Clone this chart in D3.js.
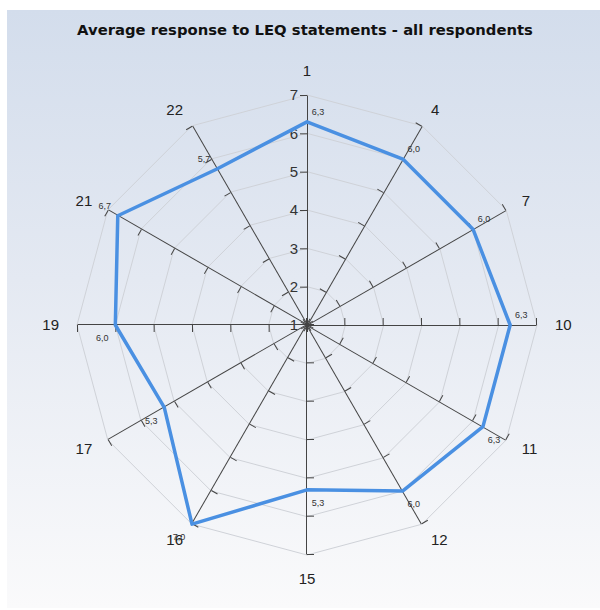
<!DOCTYPE html>
<html>
<head>
<meta charset="utf-8">
<script src="https://cdn.jsdelivr.net/npm/d3@7"></script>
<style>
  body { margin: 0; background: #fff; }
  svg { display: block; }
</style>
</head>
<body>
<div id="chart"></div>
<script>
// statements shown on the radar, clockwise from the top
var statements = ['1', '4', '7', '10', '11', '12', '15', '16', '17', '19', '21', '22']
// average response per statement
var averages = [6.3, 6.0, 6.0, 6.3, 6.3, 6.0, 5.3, 7.0, 5.3, 6.0, 6.7, 5.7]
// scale ticks
var scaleTicks = [1, 2, 3, 4, 5, 6, 7]

var width = 600, height = 610
var cx = 307, cy = 325, radius = 230

var svg = d3.select('#chart')
  .append('svg')
  .attr('width', width)
  .attr('height', height)

// background panel with a soft vertical gradient
var grad = svg.append('defs').append('linearGradient')
  .attr('id', 'bg')
  .attr('x1', 0).attr('y1', 0).attr('x2', 0).attr('y2', 1)
grad.append('stop').attr('offset', '0%').attr('stop-color', '#d3ddec')
grad.append('stop').attr('offset', '45%').attr('stop-color', '#e4e9f2')
grad.append('stop').attr('offset', '100%').attr('stop-color', '#fafafb')

svg.append('rect')
  .attr('x', 7).attr('y', 10)
  .attr('width', width - 7).attr('height', 598)
  .attr('fill', 'url(#bg)')

svg.append('text')
  .attr('x', 305)
  .attr('y', 35)
  .attr('text-anchor', 'middle')
  .style('font-family', 'DejaVu Sans, Verdana, sans-serif')
  .style('font-weight', 'bold')
  .style('font-size', '14.8px')
  .style('fill', '#111')
  .text('Average response to LEQ statements - all respondents')

var r = d3.scaleLinear().domain([1, 7]).range([0, radius])
var angle = d3.scaleLinear().domain([0, statements.length]).range([0, 2 * Math.PI])

var g = svg.append('g')
  .attr('transform', 'translate(' + cx + ',' + cy + ')')

function pos(i, v) {
  var a = angle(i)
  return [Math.sin(a) * r(v), -Math.cos(a) * r(v)]
}

// web grid at every integer level
g.selectAll('.web')
  .data(scaleTicks.slice(1))
  .enter()
  .append('polygon')
  .attr('class', 'web')
  .attr('points', function(v) {
    return statements.map(function(s, i) { return pos(i, v).join(',') }).join(' ')
  })
  .attr('fill', 'none')
  .attr('stroke', '#cfd2d8')
  .attr('stroke-width', 1)

// one axis per statement, an axisLeft rotated into place
var axisScale = d3.scaleLinear().domain([1, 7]).range([0, -radius])
statements.forEach(function(s, i) {
  var deg = angle(i) * 180 / Math.PI
  var ax = g.append('g')
    .attr('class', 'axis')
    .attr('transform', 'rotate(' + deg + ')')
    .call(d3.axisLeft(axisScale).tickValues(scaleTicks).tickSize(7).tickSizeOuter(0)
      .tickFormat(i === 0 ? d3.format('d') : ''))
  ax.select('.domain').attr('stroke', '#444')
  ax.selectAll('.tick line').attr('stroke', '#444')
  ax.selectAll('.tick text')
    .style('font-family', 'Liberation Sans, Arial, sans-serif')
    .style('font-size', '15px')
    .style('fill', '#333')
    .attr('x', -9)
  if (i === 0) ax.selectAll('.tick').filter(function(d) { return d === 1 }).select('line').remove()
})

// axis names
function nameOffset(i) { return Math.abs(Math.sin(angle(i))) < 0.1 ? 24 : 18 }
g.selectAll('.axisName')
  .data(statements)
  .enter()
  .append('text')
  .attr('class', 'axisName')
  .attr('x', function(d, i) { return Math.sin(angle(i)) * (radius + nameOffset(i)) })
  .attr('y', function(d, i) { return -Math.cos(angle(i)) * (radius + nameOffset(i)) })
  .attr('dy', '0.35em')
  .attr('text-anchor', function(d, i) {
    var s = Math.sin(angle(i))
    return s > 0.1 ? 'start' : (s < -0.1 ? 'end' : 'middle')
  })
  .style('font-family', 'Liberation Sans, Arial, sans-serif')
  .style('font-size', '15px')
  .style('fill', '#222')
  .text(function(d) { return d })

// data line
var line = d3.line().curve(d3.curveLinearClosed)
g.append('path')
  .datum(averages.map(function(v, i) { return pos(i, v) }))
  .attr('d', line)
  .attr('fill', 'none')
  .attr('stroke', '#4a90e2')
  .attr('stroke-width', 3.5)
  .attr('stroke-linejoin', 'round')

// value labels
var fmt = function(v) { return d3.format('.1f')(v).replace('.', ',') }
g.selectAll('.valLabel')
  .data(averages)
  .enter()
  .append('text')
  .attr('class', 'valLabel')
  .attr('x', function(v, i) {
    var p = pos(i, v)
    return p[0] + (Math.sin(angle(i)) >= -1e-6 ? 11 : -13)
  })
  .attr('y', function(v, i) {
    var p = pos(i, v), c = Math.cos(angle(i)), s = Math.sin(angle(i))
    var up = c > 1e-6 || (Math.abs(c) <= 1e-6 && s > 0)
    return p[1] + (up ? -10 : 13)
  })
  .attr('dy', '0.35em')
  .attr('text-anchor', 'middle')
  .style('font-family', 'Liberation Sans, Arial, sans-serif')
  .style('font-size', '9px')
  .style('fill', '#333')
  .text(fmt)
</script>
</body>
</html>
